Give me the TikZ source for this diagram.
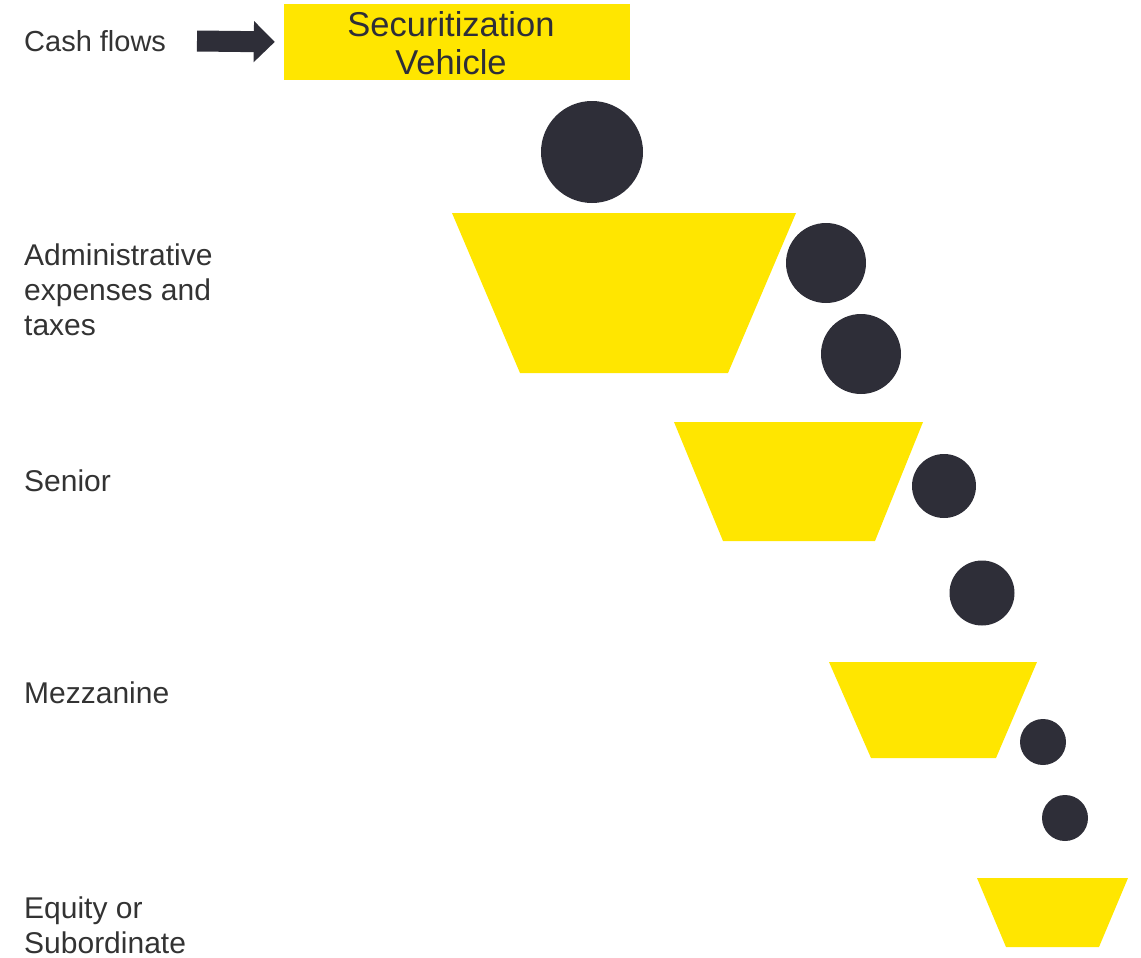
\documentclass[tikz,border=0pt]{standalone}
\usepackage{fontspec}
\setmainfont{Liberation Sans}
\usetikzlibrary{arrows.meta}
\definecolor{eyyellow}{HTML}{FFE600}
\definecolor{eydark}{HTML}{2E2E38}
\definecolor{labelgray}{HTML}{333333}
\begin{document}
\begin{tikzpicture}[x=1pt,y=-1pt,
  tier/.style={fill=eyyellow},
  ball/.style={circle,fill=eydark,inner sep=0pt},
  label/.style={anchor=west,inner sep=0pt,align=left,text=labelgray,
    font=\fontsize{30}{35}\selectfont}]
\useasboundingbox (0,0) rectangle (1141,958);

% source of the waterfall
\node[label,font=\fontsize{29}{35}\selectfont] (cash) at (24,41) {Cash flows};
\node[fill=eyyellow,minimum width=346pt,minimum height=76pt,inner sep=0pt]
  (veh) at (457,42) {};
\node[align=center,inner sep=0pt,text=eydark,
  font=\fontsize{34.5}{38}\selectfont] (vehtext) at (451,43)
  {Securitization\\Vehicle};
\coordinate (arrowstart) at (197,41);
\draw[eydark,line width=21pt,-{Triangle[length=21pt,width=40pt]},shorten >=9pt]
  (arrowstart) -- (veh.west);

% tranche labels
\node[label] (admin) at (24,290) {Administrative\\expenses and\\taxes};
\node[label] (senior) at (24,481) {Senior};
\node[label] (mezz) at (24,693) {Mezzanine};
\node[label] (equity) at (24,925) {Equity or\\Subordinate};

% buckets
\fill[tier] (452,213) -- (796,213) -- (728,373) -- (520,373) -- cycle;
\fill[tier] (674,422) -- (923,422) -- (875,541) -- (723,541) -- cycle;
\fill[tier] (829,662) -- (1037,662) -- (996,758) -- (871,758) -- cycle;
\fill[tier] (977,878) -- (1128,878) -- (1099,947) -- (1006,947) -- cycle;

% cash droplets
\node[ball,minimum size=102pt] (b1) at (592,152) {};
\node[ball,minimum size=80pt] (b2) at (826,263) {};
\node[ball,minimum size=80pt] (b3) at (861,354) {};
\node[ball,minimum size=64pt] (b4) at (944,486) {};
\node[ball,minimum size=65pt] (b5) at (982,593) {};
\node[ball,minimum size=46pt] (b6) at (1043,742) {};
\node[ball,minimum size=46pt] (b7) at (1065,818) {};
\end{tikzpicture}
\end{document}
